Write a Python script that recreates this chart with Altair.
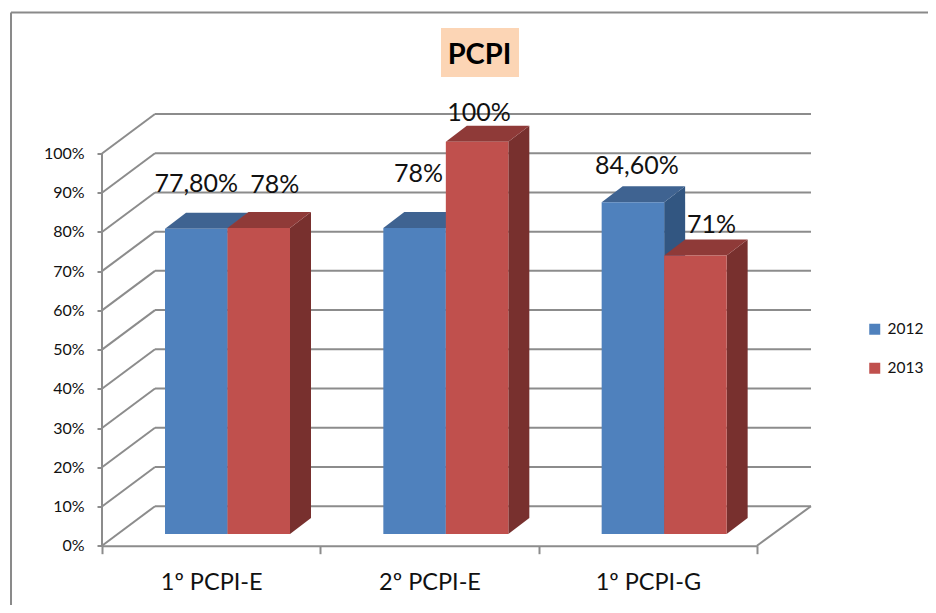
import altair as alt
import pandas as pd

# ---- values ----
categories = ["1º PCPI-E", "2º PCPI-E", "1º PCPI-G"]
series = ["2012", "2013"]
values_2012 = [77.8, 78, 84.6]
values_2013 = [78, 100, 71]
labels_2012 = ["77,80%", "78%", "84,60%"]
labels_2013 = ["78%", "100%", "71%"]
y_ticks = list(range(0, 101, 10))
chart_title = "PCPI"

# ---- layout (x in pixels from the axis, y in percent) ----
PX = 3.922
W, H = 655, 432.2
Y_MAX = H / PX
GROUP = 218.33
BAR_L, BAR_W = 63, 62.5
BASE = 11.7 / PX
DX, DY = 21, 16 / PX
WALL_X, WALL_Y = 53, 39.5 / PX
RIGHT_BACK = 709
FONT = "Lato"
GRID = "#8c8c8c"
front = {"2012": "#4f81bd", "2013": "#c0504d"}
top_c = {"2012": "#3f6391", "2013": "#8f3a38"}
side_c = {"2012": "#325681", "2013": "#78302e"}
lab_dx = {"2012": [0, 4, 4], "2013": [16, 2, 16]}
lab_dy = {"2012": [45, 54, 36], "2013": [43, 29, 31]}

xs = alt.Scale(domain=[0, W], nice=False, zero=False)
ys = alt.Scale(domain=[0, Y_MAX], nice=False, zero=False)
y_axis = alt.Axis(values=y_ticks, labelExpr="datum.value + '%'", domain=False, grid=False,
                  labelFont=FONT, labelFontSize=16, labelColor="#111111", labelPadding=13,
                  tickSize=5, tickWidth=2, tickColor=GRID)
X = lambda f: alt.X(f"{f}:Q", scale=xs, axis=None, title=None)
Y = lambda f: alt.Y(f"{f}:Q", scale=ys, axis=y_axis, title=None, stack=None)

layers = []

# frame
layers.append(alt.Chart(pd.DataFrame({"a": [0]})).mark_rule(color="#8a8a8a", strokeWidth=2).encode(
    x=alt.value(-91), x2=alt.value(840), y=alt.value(-101)))
layers.append(alt.Chart(pd.DataFrame({"a": [0]})).mark_rule(color="#8a8a8a", strokeWidth=2).encode(
    x=alt.value(-91), y=alt.value(-101), y2=alt.value(510)))
# title box
layers.append(alt.Chart(pd.DataFrame({"a": [0]})).mark_rect(color="#fcd5b5").encode(
    x=alt.value(339), x2=alt.value(417), y=alt.value(-85.5), y2=alt.value(-36.5)))

# walls and floor
back = pd.DataFrame({"x": [WALL_X] * len(y_ticks), "x2": [RIGHT_BACK] * len(y_ticks),
                     "y": [t + WALL_Y for t in y_ticks]})
layers.append(alt.Chart(back).mark_rule(color=GRID, strokeWidth=2).encode(
    x=X("x"), x2="x2:Q", y=Y("y")))
diag = pd.DataFrame(
    [{"id": t, "x": 0, "y": t} for t in y_ticks] + [{"id": t, "x": WALL_X, "y": t + WALL_Y} for t in y_ticks]
    + [{"id": "r", "x": W, "y": 0}, {"id": "r", "x": RIGHT_BACK, "y": WALL_Y}]
)
layers.append(alt.Chart(diag).mark_line(color=GRID, strokeWidth=2).encode(
    x=X("x"), y=Y("y"), detail="id:N"))
left_axis = pd.DataFrame({"x": [0], "y": [0], "y2": [100]})
layers.append(alt.Chart(left_axis).mark_rule(color=GRID, strokeWidth=2).encode(
    x=X("x"), y=Y("y"), y2="y2:Q"))

# bars
text_rows = []
vals = {"2012": values_2012, "2013": values_2013}
labs = {"2012": labels_2012, "2013": labels_2013}
for si, s in enumerate(series):
    side_rows, top_rows, front_rows = [], [], []
    for g, v in enumerate(vals[s]):
        x0 = g * GROUP + BAR_L + si * BAR_W
        x1 = x0 + BAR_W
        t = BASE + v
        side_rows += [{"id": g, "x": x1, "y": BASE, "y2": t},
                      {"id": g, "x": x1 + DX, "y": BASE + DY, "y2": t + DY}]
        top_rows += [{"id": g, "x": x0, "y": t, "y2": t},
                     {"id": g, "x": x0 + DX, "y": t, "y2": t + DY},
                     {"id": g, "x": x1, "y": t, "y2": t + DY},
                     {"id": g, "x": x1 + DX, "y": t + DY, "y2": t + DY}]
        front_rows.append({"x": x0, "x2": x1, "y": BASE, "y2": t, "series": s})
        text_rows.append({"x": x0 + BAR_W / 2 + lab_dx[s][g], "y": t + lab_dy[s][g] / PX, "label": labs[s][g]})
    layers.append(alt.Chart(pd.DataFrame(side_rows)).mark_area(color=side_c[s], interpolate="linear").encode(
        x=X("x"), y=Y("y"), y2="y2:Q", detail="id:N"))
    layers.append(alt.Chart(pd.DataFrame(top_rows)).mark_area(color=top_c[s], interpolate="linear").encode(
        x=X("x"), y=Y("y"), y2="y2:Q", detail="id:N"))
    layers.append(alt.Chart(pd.DataFrame(front_rows)).mark_rect().encode(
        x=X("x"), x2="x2:Q", y=Y("y"), y2="y2:Q",
        color=alt.Color("series:N",
                        scale=alt.Scale(domain=series, range=[front[k] for k in series]),
                        legend=alt.Legend(orient="none", legendX=765, legendY=208, title=None,
                                          symbolType="square", symbolSize=121, symbolStrokeWidth=0,
                                          labelFont=FONT, labelFontSize=15.5, labelColor="#111111",
                                          rowPadding=22, labelOffset=5, padding=0))))

# data labels
layers.append(alt.Chart(pd.DataFrame(text_rows)).mark_text(
    font=FONT, fontSize=25, color="#111111", baseline="middle", align="center").encode(
    x=X("x"), y=Y("y"), text="label:N"))

# axes
axis_df = pd.DataFrame({"cat": categories, "y": [0, 0, 0]})
layers.append(alt.Chart(axis_df).mark_point(opacity=0).encode(
    x=alt.X("cat:N", sort=categories, title=None,
            scale=alt.Scale(type="band", domain=categories, paddingInner=0, paddingOuter=0),
            axis=alt.Axis(orient="bottom", tickBand="extent", labelAngle=0, labelFont=FONT, labelFontSize=23.5,
                          labelColor="#111111", labelPadding=17, tickSize=8, tickWidth=2, tickColor=GRID,
                          domain=True, domainColor=GRID, domainWidth=2, grid=False)),
    y=alt.Y("y:Q", scale=ys, title=None, axis=y_axis),
))

chart = alt.layer(*layers).resolve_scale(x="independent").properties(
    width=W, height=H,
    title=alt.Title(chart_title, font=FONT, fontSize=29, fontWeight="bold", color="#000000",
                    anchor="middle", dx=50, offset=-59),
    autosize=alt.AutoSizeParams(type="none"),
    padding={"left": 94, "top": 105.5, "right": 171, "bottom": 59},
).configure_view(stroke=None)

chart.save("out.html", embed_options={"renderer": "svg", "actions": False})
